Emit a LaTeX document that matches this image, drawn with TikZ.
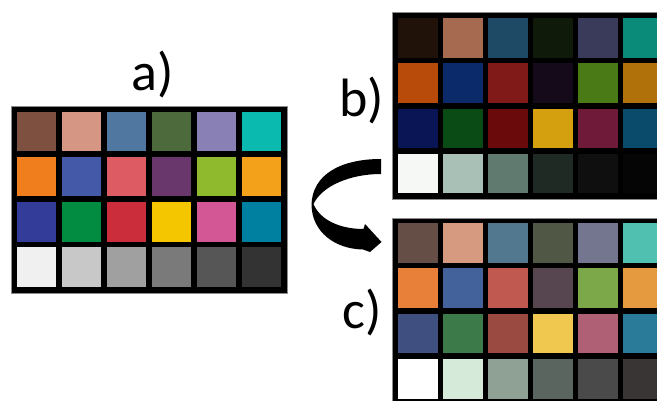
\documentclass[tikz,border=0pt]{standalone}
\usepackage{fontspec}
\setmainfont{Carlito}
\newcommand\mkboard[3]{%
  \foreach \c [count=\k from 0] in {#3} {%
    \pgfmathtruncatemacro\colidx{mod(\k,6)}%
    \pgfmathtruncatemacro\rowidx{div(\k,6)}%
    \definecolor{pc}{HTML}{\c}%
    \fill[pc] ({#1+45*\colidx},{#2+45.2*\rowidx}) rectangle ++(39.6,39.6);
  }%
}
\tikzset{
  board/.style={fill=black, draw=black!45, line width=0.6pt},
  lbl/.style={font=\fontsize{54}{60}\selectfont, anchor=base, inner sep=0pt}
}
\begin{document}
\begin{tikzpicture}[x=1pt, y=-1pt]
\useasboundingbox (0,0) rectangle (657,401);
\clip (0,0) rectangle (657,401);
\fill[white] (0,0) rectangle (657,401);
% board a
\filldraw[board] (11.7,106) rectangle (287,293);
\mkboard{16.7}{111.7}{7D5040,D59683,5077A0,4D6A3D,8980B5,0ABAAE,
F07E1C,4459A8,DD5C64,6A376C,8FBA2E,F3A11A,
333C99,028C42,CB2D3B,F4C600,D45795,0080A0,
F0F0F0,C8C8C8,A0A0A0,7A7A7A,565656,333333}
% board b
\filldraw[board] (392.7,12.7) rectangle (670,199.3);
\mkboard{398.3}{18.3}{201208,A56A50,1E4A65,0F1A0A,3A3A5A,0A8A78,
B84A0A,0A2A6A,801A18,150A1A,4A7A15,B0700A,
0A1555,0A4A15,6A0A0A,D4A010,701A3A,0A4A6A,
F5F8F5,A8C0B5,607A70,202A25,0F0F0F,050505}
% board c
\filldraw[board] (392.7,218.3) rectangle (670,420);
\mkboard{398.3}{223.3}{654E45,D69A80,527890,505745,74758E,50C0B0,
E8803A,43619A,C05A50,574550,7CA84A,E69A40,
3F4F80,3D7A4A,9A4A40,F0C850,B06075,2A7A9A,
FFFFFF,D5EAD8,8FA095,5A6560,4A4A4A,3A3535}
% labels
\node[lbl] (la) at (153,91) {a)};
\node[lbl] (lb) at (362,117) {b)};
\node[lbl] (lc) at (362,328) {c)};
% curved arrow
\fill[black] (381,159) .. controls (340,159) and (312,175) .. (311.5,205)
  .. controls (312,232) and (335,249) .. (363,249.5)
  -- (370,252) -- (381.5,242) -- (365,224) -- (363.5,229)
  .. controls (340,229) and (320,220) .. (313.5,204)
  .. controls (322,186) and (350,174) .. (381,174) -- cycle;
\end{tikzpicture}
\end{document}
